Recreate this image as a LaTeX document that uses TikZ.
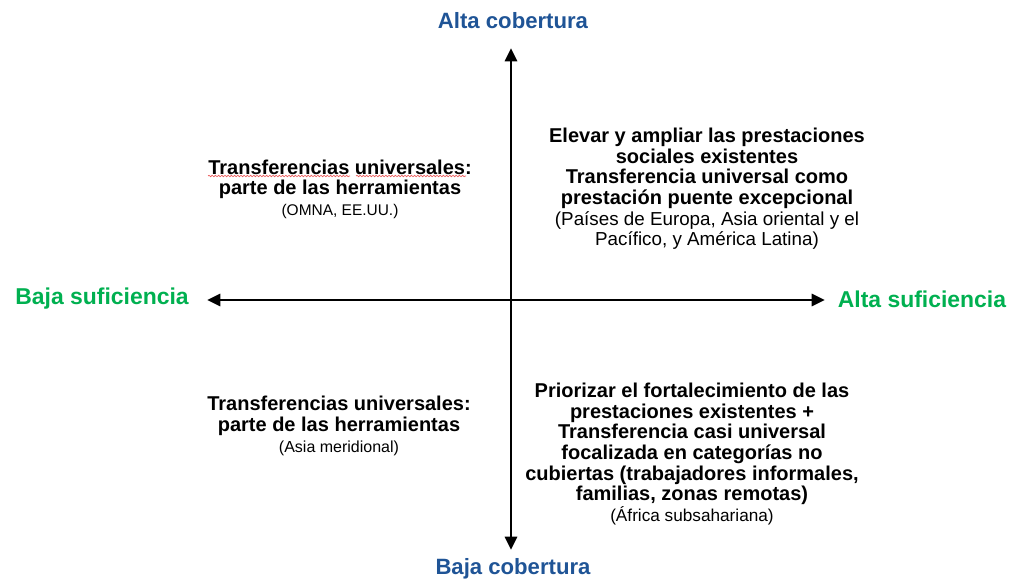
\documentclass[tikz,border=0pt]{standalone}
\usepackage{fontspec}
\setmainfont{Liberation Sans}
\usetikzlibrary{arrows.meta,decorations.pathmorphing}
\definecolor{axisblue}{RGB}{31,84,150}
\definecolor{axisgreen}{RGB}{0,176,80}
\definecolor{spellred}{RGB}{235,90,90}
\newcommand{\bodyfont}{\fontsize{15}{15.45}\selectfont\bfseries}
\newcommand{\notefont}[1]{\fontsize{#1}{15.45}\selectfont\mdseries}
\begin{document}
\begin{tikzpicture}[x=0.75pt,y=-0.75pt,
  axisline/.style={line width=2.2pt,-{Triangle[length=10pt,width=9pt]}},
  bluelabel/.style={font=\fontsize{16.6}{20}\selectfont\bfseries,text=axisblue,inner sep=0pt},
  greenlabel/.style={font=\fontsize{17.2}{20}\selectfont\bfseries,text=axisgreen,inner sep=0pt},
  quad/.style={font=\bodyfont,align=center,inner sep=0pt},
  squiggle/.style={spellred,line width=0.5pt,decorate,decoration={snake,amplitude=0.55pt,segment length=2.4pt}}]
\useasboundingbox (0,0) rectangle (1010,581);
% axis end points
\coordinate (top) at (511,48);
\coordinate (bottom) at (511,550);
\coordinate (left) at (207,300);
\coordinate (right) at (825,300);
\coordinate (center) at (511,300);
\draw[axisline] (center) -- (top);
\draw[axisline] (center) -- (bottom);
\draw[axisline] (center) -- (left);
\draw[axisline] (center) -- (right);
% axis labels
\node[bluelabel] (altacob) at (513,21) {Alta cobertura};
\node[bluelabel] (bajacob) at (513,569) {Baja cobertura};
\node[greenlabel] (bajasuf) at (102,299) {Baja suficiencia};
\node[greenlabel] (altasuf) at (922,299) {Alta suficiencia};
% quadrant texts
\node[quad] (tl) at (340,189) {Transferencias universales:\\parte de las herramientas\\{\notefont{11.6}(OMNA, EE.UU.)}};
\node[quad] (tr) at (707,189) {Elevar y ampliar las prestaciones\\sociales existentes\\Transferencia universal como\\prestación puente excepcional\\{\notefont{14.1}(Países de Europa, Asia oriental y el}\\{\notefont{14.1}Pacífico, y América Latina)}};
\node[quad] (bl) at (339,426) {Transferencias universales:\\parte de las herramientas\\{\notefont{12}(Asia meridional)}};
\node[quad] (br) at (692,454) {Priorizar el fortalecimiento de las\\prestaciones existentes +\\Transferencia casi universal\\focalizada en categorías no\\cubiertas (trabajadores informales,\\familias, zonas remotas)\\{\notefont{12.9}(África subsahariana)}};
% spell-check underlines in the top-left text
\draw[squiggle] (208,176) -- (350,176);
\draw[squiggle] (356,176) -- (466,176);
\end{tikzpicture}
\end{document}
